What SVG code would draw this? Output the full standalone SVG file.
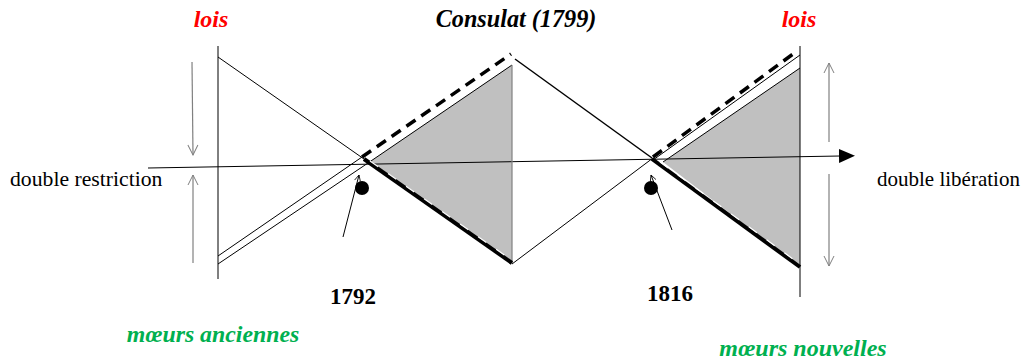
<svg xmlns="http://www.w3.org/2000/svg" width="1029" height="361" viewBox="0 0 1029 361">
<style>
.thin{stroke:#000;stroke-width:1;fill:none}
.gr{stroke:#808080;stroke-width:1.2;fill:none}
.dash{stroke:#000;stroke-width:3.5;stroke-dasharray:11 7;fill:none}
.thick{stroke:#000;stroke-width:4;fill:none}
.inner{stroke:#fff;stroke-width:1.2;stroke-dasharray:10 12;fill:none}
.tri{fill:#c0c0c0;stroke:none}
</style>
<defs>
<marker id="open" viewBox="0 0 12 12" refX="11" refY="6" markerWidth="12" markerHeight="12" markerUnits="userSpaceOnUse" orient="auto">
<path d="M1,1 L11,6 L1,11" fill="none" stroke="#808080" stroke-width="1"/>
</marker>
<marker id="small" viewBox="0 0 8 8" refX="7" refY="4" markerWidth="8" markerHeight="8" markerUnits="userSpaceOnUse" orient="auto">
<path d="M1,1 L7,4 L1,7" fill="none" stroke="#000" stroke-width="0.8"/>
</marker>
<marker id="fill" viewBox="0 0 16 14" refX="1" refY="7" markerWidth="16" markerHeight="14" markerUnits="userSpaceOnUse" orient="auto">
<path d="M0,0 L16,7 L0,14 Z" fill="#000"/>
</marker>
</defs>
<g id="shading">
<polygon class="tri" points="368,163 512,65 512,263"/>
<polygon class="tri" points="663,162 800,68 800,267"/>
</g>
<g id="connectors">
<line class="thin" x1="218" y1="46" x2="218" y2="279"/>
<line class="thin" x1="800" y1="46" x2="800" y2="297"/>
<line class="thin" x1="148" y1="168" x2="840" y2="156" marker-end="url(#fill)"/>
<line class="thin" x1="218" y1="57" x2="364" y2="159"/>
<line class="thin" x1="218" y1="256" x2="362" y2="157"/>
<line class="thin" x1="218" y1="264" x2="368" y2="163"/>
<line class="dash" x1="362" y1="157" x2="511" y2="54"/>
<line class="thin" x1="368" y1="163" x2="512" y2="65"/>
<line class="gr" x1="512" y1="65" x2="512" y2="263"/>
<line class="thick" x1="364" y1="159" x2="512" y2="263"/>
<line class="inner" x1="370" y1="161" x2="510" y2="259"/>
<line class="thin" x1="515" y1="59" x2="652" y2="158" style="stroke-width:1.5"/>
<line class="thin" x1="512" y1="264" x2="653" y2="158"/>
<line class="dash" x1="653" y1="157" x2="793" y2="54"/>
<line class="thin" x1="653" y1="160" x2="800" y2="55"/>
<line class="thin" x1="663" y1="162" x2="800" y2="68"/>
<line class="thick" x1="652" y1="159" x2="800" y2="267"/>
<line class="inner" x1="660" y1="162" x2="797" y2="262"/>
<line class="gr" x1="192" y1="62" x2="193" y2="155" marker-end="url(#open)"/>
<line class="gr" x1="193" y1="263" x2="193" y2="175" marker-end="url(#open)"/>
<line class="gr" x1="829" y1="142" x2="829" y2="63" marker-end="url(#open)"/>
<line class="gr" x1="829" y1="174" x2="829" y2="266" marker-end="url(#open)"/>
<line class="thin" x1="343" y1="237" x2="359" y2="175" marker-end="url(#small)"/>
<line class="thin" x1="672" y1="230" x2="651" y2="175" marker-end="url(#small)"/>
</g>
<g id="dot1792"><circle cx="362" cy="188" r="7" fill="#000"/></g>
<g id="dot1816"><circle cx="651" cy="188" r="7" fill="#000"/></g>
<g id="labels" font-family="'Liberation Serif','Times New Roman',serif">
<text x="211" y="27" font-size="24" font-weight="bold" font-style="italic" fill="#ff0000" text-anchor="middle">lois</text>
<text x="799" y="27" font-size="24" font-weight="bold" font-style="italic" fill="#ff0000" text-anchor="middle">lois</text>
<text x="516" y="27" font-size="24.2" font-weight="bold" font-style="italic" fill="#000" text-anchor="middle">Consulat (1799)</text>
<text x="10" y="186" font-size="21.7" fill="#000">double restriction</text>
<text x="877" y="186" font-size="21" fill="#000">double libération</text>
<text x="353" y="304" font-size="23" font-weight="bold" fill="#000" text-anchor="middle">1792</text>
<text x="670" y="301" font-size="23" font-weight="bold" fill="#000" text-anchor="middle">1816</text>
<text x="213" y="342" font-size="23.8" font-weight="bold" font-style="italic" fill="#00b050" text-anchor="middle">mœurs anciennes</text>
<text x="803" y="356" font-size="24" font-weight="bold" font-style="italic" fill="#00b050" text-anchor="middle">mœurs nouvelles</text>
</g>
</svg>
